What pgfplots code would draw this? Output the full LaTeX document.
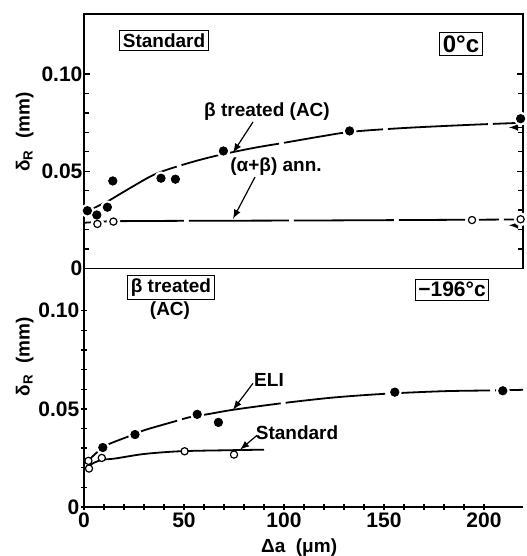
\documentclass[border=0pt]{standalone}
\usepackage{pgfplots}
\pgfplotsset{compat=1.18}
\usepackage{fontspec}
\setmainfont{Liberation Sans}
\begin{document}
\begin{tikzpicture}[font=\fontsize{9.5}{11}\selectfont\bfseries]
\useasboundingbox (0,0) rectangle (263pt,278pt);
\pgfplotsset{
  common/.style={
    scale only axis, width=219.5pt, xmin=0, xmax=219.5,
    axis line style={line width=0.9pt},
    every tick/.style={line width=0.7pt, black},
    major tick length=3.2pt, minor tick length=2.6pt,
    /pgf/number format/assume math mode=true,
    ytick={0,0.05,0.10}, yticklabels={0,0.05,0.10},
    minor y tick num=4,
    yticklabel style={inner sep=0.6pt, font=\fontsize{10.5}{11}\selectfont\bfseries},
    clip=false,
  },
  cur/.style={line width=0.9pt, smooth, no marks, black, dash pattern=on 50pt off 2.5pt},
  halo/.style={only marks, mark=*, mark size=3.2pt, mark options={fill=white, draw=white, solid}},
  fil/.style={only marks, mark=*, mark size=2.1pt, mark options={fill=black, draw=black, solid}},
  opn/.style={only marks, mark=*, mark size=1.8pt, mark options={fill=white, draw=black, line width=0.6pt, solid}},
}
% ---------------- bottom panel (-196 C) ----------------
\begin{axis}[common, at={(42pt,24.5pt)}, anchor=south west, height=119.25pt,
  ymin=0, ymax=0.1215,
  axis x line=bottom, axis y line=left, axis line style={-},
  xtick={0,50,100,150,200}, minor x tick num=4,
  xticklabel style={inner sep=1pt, font=\fontsize{10.5}{11}\selectfont\bfseries},
  xlabel={Δa\ \ (μm)},
  xlabel style={at={(axis description cs:0.49,-0.17)}, anchor=center},
  ylabel={δ\textsubscript{R}\ \ (mm)},
  ylabel style={at={(axis description cs:-0.135,0.63)}, anchor=center},
]
\addplot[cur] coordinates {(2,0.023) (4,0.0255) (9,0.030) (13,0.0323) (25,0.037) (31,0.0394) (45,0.0435) (53,0.0458) (62,0.0473) (75,0.0496) (100,0.053) (125,0.0558) (151,0.0577) (180,0.059) (205,0.0594) (219.5,0.0597)};
\addplot[cur] coordinates {(1,0.019) (4,0.022) (9,0.024) (15.5,0.0247) (30,0.027) (48,0.0284) (71,0.0289) (90,0.0292)};
\addplot[halo] coordinates {(9.4,0.0303) (25.5,0.0369) (56.6,0.0472) (67.2,0.0431) (155.4,0.0585) (209.4,0.0592)};
\addplot[fil] coordinates {(9.4,0.0303) (25.5,0.0369) (56.6,0.0472) (67.2,0.0431) (155.4,0.0585) (209.4,0.0592)};
\addplot[opn] coordinates {(2.2,0.0235) (2.5,0.0196) (8.9,0.025) (50.3,0.0284) (75,0.0267)};
\node[draw, line width=0.6pt, inner sep=1.5pt] at (axis cs:43.5,0.1117) {β treated};
\node at (axis cs:43,0.1) {(AC)};
\node[draw, line width=0.6pt, inner sep=1.5pt, font=\fontsize{10.5}{11}\selectfont\bfseries] at (axis cs:184,0.1107) {−196°c};
\node at (axis cs:92.5,0.0645) {ELI};
\draw[-latex, line width=0.6pt] (axis cs:84.5,0.063) -- (axis cs:74.5,0.0495);
\node at (axis cs:106.5,0.038) {Standard};
\draw[-latex, line width=0.6pt] (axis cs:86.5,0.0365) -- (axis cs:78,0.0292);
\end{axis}
% ---------------- top panel (0 C) ----------------
\begin{axis}[common, at={(42pt,143.75pt)}, anchor=south west, height=127.25pt,
  ymin=0, ymax=0.1308,
  xtick=\empty,
  ylabel={δ\textsubscript{R}\ \ (mm)},
  ylabel style={at={(axis description cs:-0.135,0.536)}, anchor=center},
]
\addplot[cur] coordinates {(2,0.029) (5,0.031) (8,0.0326) (13,0.0352) (20,0.0395) (33,0.0472) (41,0.0506) (55,0.055) (68,0.0584) (85,0.062) (100,0.0646) (118,0.0678) (134,0.0703) (160,0.0722) (190,0.0737) (214,0.0747) (219.5,0.0749)};
\addplot[cur] coordinates {(0,0.0235) (8,0.024) (15,0.0243) (50,0.0245) (120,0.0247) (219.5,0.0252)};
\addplot[halo] coordinates {(1.7,0.0297) (6.4,0.0275) (11.7,0.0315) (14.4,0.045) (38.5,0.0464) (45.7,0.0459) (69.7,0.0604) (132.8,0.0707) (218.3,0.077)};
\addplot[halo] coordinates {(6.7,0.0229) (14.7,0.0241) (194,0.0249) (218.3,0.0253)};
\addplot[fil] coordinates {(1.7,0.0297) (6.4,0.0275) (11.7,0.0315) (14.4,0.045) (38.5,0.0464) (45.7,0.0459) (69.7,0.0604) (132.8,0.0707) (218.3,0.077)};
\addplot[opn] coordinates {(6.7,0.0229) (14.7,0.0241) (194,0.0249) (218.3,0.0253)};
\draw[-latex, line width=0.6pt] (axis cs:219.5,0.0725) -- (axis cs:212.5,0.0725);
\draw[-latex, line width=0.6pt] (axis cs:219.5,0.0222) -- (axis cs:212.5,0.0222);
\node[draw, line width=0.6pt, inner sep=1.5pt] at (axis cs:40,0.117) {Standard};
\node[draw, line width=0.6pt, inner sep=1.5pt, font=\fontsize{12}{13}\selectfont\bfseries] at (axis cs:188.5,0.1154) {0°c};
\node at (axis cs:91.5,0.0805) {β treated (AC)};
\draw[-latex, line width=0.6pt] (axis cs:84.5,0.0753) -- (axis cs:74.5,0.0595);
\node at (axis cs:96,0.0522) {(α+β) ann.};
\draw[-latex, line width=0.6pt] (axis cs:85.5,0.047) -- (axis cs:74.5,0.0255);
\end{axis}
\end{tikzpicture}
\end{document}
